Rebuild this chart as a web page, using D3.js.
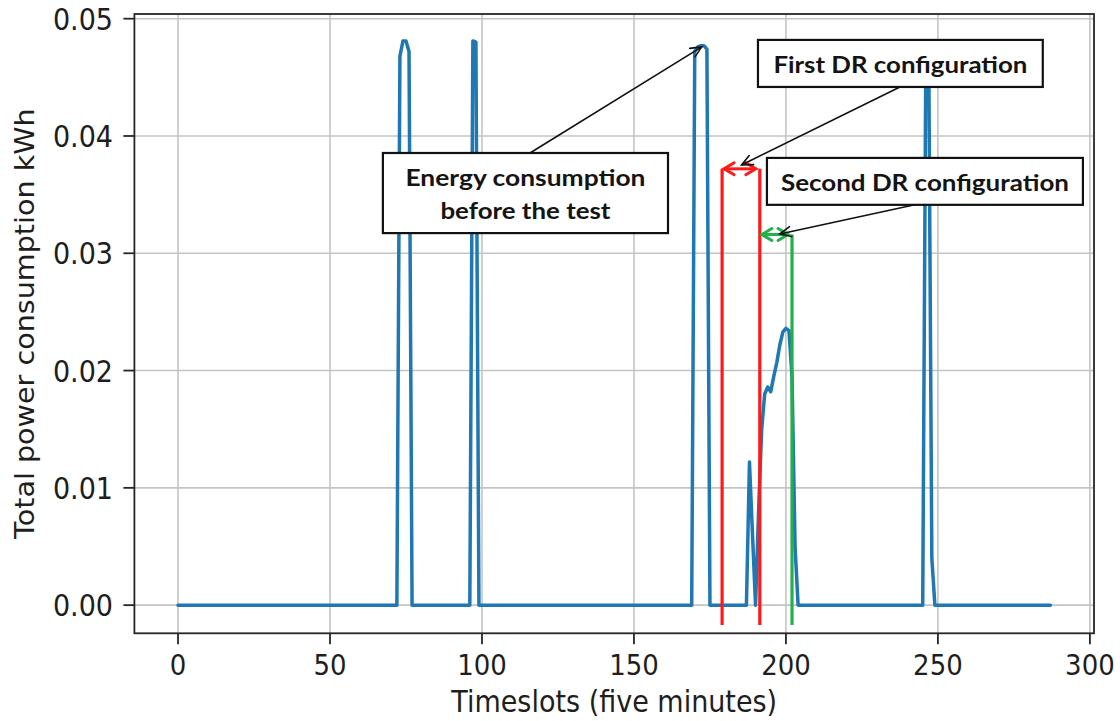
<!DOCTYPE html>
<html>
<head>
<meta charset="utf-8">
<script src="https://cdn.jsdelivr.net/npm/d3@7"></script>
<style>
  body { margin: 0; background: #fff; }
  svg { display: block; }
</style>
</head>
<body>
<svg id="chart" width="1120" height="721"></svg>
<script>
// ---- data -------------------------------------------------------------
// Total power consumption (kWh) per five-minute timeslot, slots 0..287
const consumption = [
  0, 0, 0, 0, 0, 0, 0, 0, 0, 0, 0, 0,
  0, 0, 0, 0, 0, 0, 0, 0, 0, 0, 0, 0,
  0, 0, 0, 0, 0, 0, 0, 0, 0, 0, 0, 0,
  0, 0, 0, 0, 0, 0, 0, 0, 0, 0, 0, 0,
  0, 0, 0, 0, 0, 0, 0, 0, 0, 0, 0, 0,
  0, 0, 0, 0, 0, 0, 0, 0, 0, 0, 0, 0,
  0, 0.0468, 0.0481, 0.0481, 0.0472, 0, 0, 0, 0, 0, 0, 0,
  0, 0, 0, 0, 0, 0, 0, 0, 0, 0, 0, 0,
  0, 0.0481, 0.0480, 0, 0, 0, 0, 0, 0, 0, 0, 0,
  0, 0, 0, 0, 0, 0, 0, 0, 0, 0, 0, 0,
  0, 0, 0, 0, 0, 0, 0, 0, 0, 0, 0, 0,
  0, 0, 0, 0, 0, 0, 0, 0, 0, 0, 0, 0,
  0, 0, 0, 0, 0, 0, 0, 0, 0, 0, 0, 0,
  0, 0, 0, 0, 0, 0, 0, 0, 0, 0, 0, 0,
  0, 0, 0.0472, 0.0476, 0.0477, 0.0477, 0.0474, 0, 0, 0, 0, 0,
  0, 0, 0, 0, 0, 0, 0, 0, 0.0122, 0.0060, 0, 0.0080,
  0.0149, 0.0180, 0.0186, 0.0182, 0.0195, 0.0207, 0.0222, 0.0233, 0.0236, 0.0234, 0.0195, 0.0050,
  0, 0, 0, 0, 0, 0, 0, 0, 0, 0, 0, 0,
  0, 0, 0, 0, 0, 0, 0, 0, 0, 0, 0, 0,
  0, 0, 0, 0, 0, 0, 0, 0, 0, 0, 0, 0,
  0, 0, 0, 0, 0, 0, 0.0458, 0.0462, 0.0040, 0, 0, 0,
  0, 0, 0, 0, 0, 0, 0, 0, 0, 0, 0, 0,
  0, 0, 0, 0, 0, 0, 0, 0, 0, 0, 0, 0,
  0, 0, 0, 0, 0, 0, 0, 0, 0, 0, 0, 0
];
const timeslots = consumption.map((_, i) => i);

const xTicks = [0, 50, 100, 150, 200, 250, 300];
const yTicks = [0, 0.01, 0.02, 0.03, 0.04, 0.05];
const xTickLabels = ["0", "50", "100", "150", "200", "250", "300"];
const yTickLabels = ["0.00", "0.01", "0.02", "0.03", "0.04", "0.05"];

// Demand-response windows (timeslot bounds, marker heights in kWh)
const drStarts = [179, 191.4];
const drEnds = [191.4, 202];
const drTops = [0.0372, 0.0316];
const drBottom = -0.0017;
const drColors = ["#ff1a1a", "#22b04b"];

// Callout notes: box extent [t0, t1, kWhTop, kWhBottom], arrow tail and tip in data units
const noteTexts = [
  ["Energy consumption", "before the test"],
  ["First DR configuration"],
  ["Second DR configuration"]
];
const noteLayout = [
  { box: [67.4, 161.2, 0.03855, 0.03172], tail: [115.8, 0.03855], tip: [172.3, 0.0476], widths: [240, 170] },
  { box: [190.8, 284.5, 0.04819, 0.04418], tail: [237.5, 0.04418], tip: [185.4, 0.03753], widths: [254] },
  { box: [193.75, 297.7, 0.03813, 0.03413], tail: [242.4, 0.03413], tip: [198.0, 0.03165], widths: [288] }
];

// ---- layout -----------------------------------------------------------
const plot = { left: 134.4, right: 1094, top: 14, bottom: 633.3 };
const svg = d3.select("#chart");
const x = d3.scaleLinear().domain([-14.35, 301.35]).range([plot.left, plot.right]);
const y = d3.scaleLinear().domain([-0.0024, 0.0504]).range([plot.bottom, plot.top]);
const STRETCH = 1.1;           // text is drawn slightly tall
const axisFont = "'DejaVu Sans', sans-serif";
const ink = "#1e1e1e";

// ---- grid -------------------------------------------------------------
const grid = svg.append("g");
grid.selectAll("line.gx").data(xTicks).join("line")
  .attr("x1", d => x(d)).attr("x2", d => x(d))
  .attr("y1", plot.top).attr("y2", plot.bottom)
  .attr("stroke", "#c4c4c4").attr("stroke-width", 1.6);
grid.selectAll("line.gy").data(yTicks).join("line")
  .attr("y1", d => y(d)).attr("y2", d => y(d))
  .attr("x1", plot.left).attr("x2", plot.right)
  .attr("stroke", "#c4c4c4").attr("stroke-width", 1.6);

// ---- consumption line -------------------------------------------------
const line = d3.line().x((d, i) => x(timeslots[i])).y(d => y(d));
svg.append("path")
  .datum(consumption)
  .attr("d", line)
  .attr("fill", "none")
  .attr("stroke", "#1f77b4")
  .attr("stroke-width", 3.5)
  .attr("stroke-linejoin", "round")
  .attr("stroke-linecap", "round");

// ---- arrows -----------------------------------------------------------
function arrowHead(g, tx, ty, fx, fy, len, half, color, width) {
  const a = Math.atan2(ty - fy, tx - fx);
  const bx = tx - len * Math.cos(a), by = ty - len * Math.sin(a);
  const nx = -Math.sin(a) * half, ny = Math.cos(a) * half;
  g.append("path")
    .attr("d", `M${bx + nx},${by + ny}L${tx},${ty}L${bx - nx},${by - ny}`)
    .attr("fill", "none").attr("stroke", color).attr("stroke-width", width)
    .attr("stroke-linejoin", "miter").attr("stroke-linecap", "round");
}
function arrow(g, x1, y1, x2, y2, opts) {
  g.append("line").attr("x1", x1).attr("y1", y1).attr("x2", x2).attr("y2", y2)
    .attr("stroke", opts.color).attr("stroke-width", opts.width);
  arrowHead(g, x2, y2, x1, y1, opts.len, opts.half, opts.color, opts.width);
  if (opts.both) arrowHead(g, x1, y1, x2, y2, opts.len, opts.half, opts.color, opts.width);
}

// ---- DR markers -------------------------------------------------------
const dr = svg.append("g");
drStarts.forEach((s, i) => {
  const col = drColors[i];
  // end marker of each window (start marker only for the first one)
  if (i === 0) {
    dr.append("line").attr("x1", x(s)).attr("x2", x(s))
      .attr("y1", y(drTops[i])).attr("y2", y(drBottom))
      .attr("stroke", col).attr("stroke-width", 3.2);
  }
  dr.append("line").attr("x1", x(drEnds[i])).attr("x2", x(drEnds[i]))
    .attr("y1", y(drTops[i])).attr("y2", y(drBottom))
    .attr("stroke", col).attr("stroke-width", 3.2);
  arrow(dr, x(s) + 2, y(drTops[i]), x(drEnds[i]) - 4, y(drTops[i]),
    { color: col, width: 3, len: 10, half: 6, both: true });
});

// ---- axes frame, ticks, labels ----------------------------------------
const axes = svg.append("g");
axes.append("rect")
  .attr("x", plot.left).attr("y", plot.top)
  .attr("width", plot.right - plot.left).attr("height", plot.bottom - plot.top)
  .attr("fill", "none").attr("stroke", "#262626").attr("stroke-width", 1.8);

axes.selectAll("line.tx").data(xTicks).join("line")
  .attr("x1", d => x(d)).attr("x2", d => x(d))
  .attr("y1", plot.bottom).attr("y2", plot.bottom + 11)
  .attr("stroke", "#262626").attr("stroke-width", 1.8);
axes.selectAll("line.ty").data(yTicks).join("line")
  .attr("y1", d => y(d)).attr("y2", d => y(d))
  .attr("x1", plot.left - 11).attr("x2", plot.left)
  .attr("stroke", "#262626").attr("stroke-width", 1.8);

axes.selectAll("text.tx").data(xTicks).join("text")
  .attr("transform", d => `translate(${x(d)},${675}) scale(1,${STRETCH})`)
  .attr("text-anchor", "middle")
  .attr("font-family", axisFont).attr("font-size", 26).attr("fill", ink)
  .text((d, i) => xTickLabels[i]);
axes.selectAll("text.ty").data(yTicks).join("text")
  .attr("transform", d => `translate(${113},${y(d) + 11}) scale(1,${STRETCH})`)
  .attr("text-anchor", "end")
  .attr("font-family", axisFont).attr("font-size", 27).attr("fill", ink)
  .text((d, i) => yTickLabels[i]);

axes.append("text")
  .attr("transform", `translate(${(plot.left + plot.right) / 2},${711.5}) scale(1,${STRETCH})`)
  .attr("text-anchor", "middle")
  .attr("font-family", axisFont).attr("font-size", 27).attr("fill", ink)
  .text("Timeslots (five minutes)");
axes.append("text")
  .attr("transform", `translate(${34},${(plot.top + plot.bottom) / 2}) rotate(-90) scale(${STRETCH},1)`)
  .attr("text-anchor", "middle")
  .attr("font-family", axisFont).attr("font-size", 26).attr("fill", ink)
  .text("Total power consumption kWh");

// ---- callouts ---------------------------------------------------------
const notesG = svg.append("g");
noteLayout.forEach((n, i) => {
  arrow(notesG, x(n.tail[0]), y(n.tail[1]), x(n.tip[0]), y(n.tip[1]),
    { color: "#111", width: 1.6, len: 11, half: 5, both: false });
});
noteLayout.forEach((n, i) => {
  const [t0, t1, top, bottom] = n.box;
  const bx = x(t0), by = y(top), bw = x(t1) - x(t0), bh = y(bottom) - y(top);
  notesG.append("rect")
    .attr("x", bx).attr("y", by).attr("width", bw).attr("height", bh)
    .attr("fill", "#fff").attr("stroke", "#111").attr("stroke-width", 2.2);
  noteTexts[i].forEach((txt, j) => {
    notesG.append("text")
      .attr("transform", `translate(${bx + bw / 2},${by + 32.7 + j * 33.3}) scale(1,${STRETCH})`)
      .attr("text-anchor", "middle")
      .attr("font-family", "Lato, 'Open Sans', sans-serif")
      .attr("font-weight", 700)
      .attr("font-size", 21)
      .attr("fill", "#141414")
      .attr("textLength", n.widths[j])
      .attr("lengthAdjust", "spacingAndGlyphs")
      .text(txt);
  });
});
</script>
</body>
</html>
